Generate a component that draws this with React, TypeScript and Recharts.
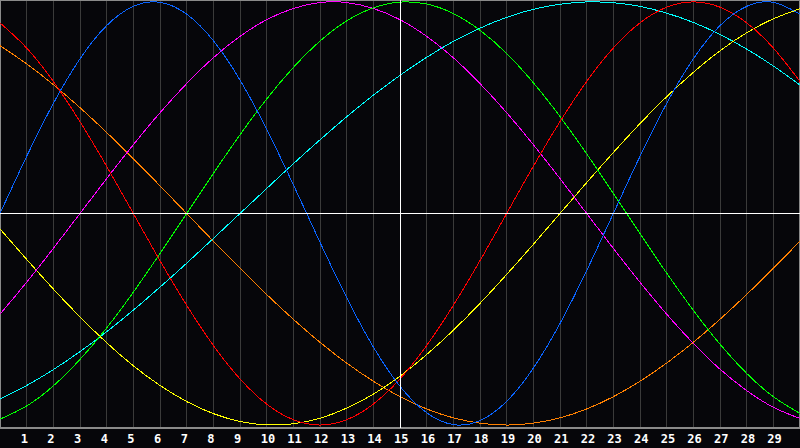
import React from "react";
import {
  LineChart,
  Line,
  XAxis,
  YAxis,
  CartesianGrid,
  ReferenceLine,
  ReferenceArea,
} from "recharts";

// days shown on the chart
const days = [
  0, 1, 2, 3, 4, 5, 6, 7, 8, 9, 10, 11, 12, 13, 14, 15, 16, 17, 18, 19, 20, 21,
  22, 23, 24, 25, 26, 27, 28, 29, 30,
];
const tickDays = [
  1, 2, 3, 4, 5, 6, 7, 8, 9, 10, 11, 12, 13, 14, 15, 16, 17, 18, 19, 20, 21, 22,
  23, 24, 25, 26, 27, 28, 29,
];

// curve values in percent, read at each day
const blueVals = [
  0, 27.0, 52.0, 73.1, 88.8, 97.9, 99.8, 94.2, 81.7, 63.1, 39.8, 13.6, -13.6,
  -39.8, -63.1, -81.7, -94.2, -99.8, -97.9, -88.8, -73.1, -52.0, -27.0, 0, 27.0,
  52.0, 73.1, 88.8, 97.9, 99.8, 94.2,
];
const redVals = [
  90.1, 78.2, 62.4, 43.4, 22.3, 0, -22.3, -43.4, -62.4, -78.2, -90.1, -97.5,
  -100, -97.5, -90.1, -78.2, -62.4, -43.4, -22.3, 0, 22.3, 43.4, 62.4, 78.2,
  90.1, 97.5, 100, 97.5, 90.1, 78.2, 62.4,
];
const greenVals = [
  -97.2, -91.0, -81.5, -69.0, -54.1, -37.2, -18.9, 0, 18.9, 37.2, 54.1, 69.0,
  81.5, 91.0, 97.2, 99.9, 99.0, 94.5, 86.6, 75.6, 61.8, 45.8, 28.2, 9.5, -9.5,
  -28.2, -45.8, -61.8, -75.6, -86.6, -94.5,
];
const magentaVals = [
  -47.6, -32.5, -16.5, 0, 16.5, 32.5, 47.6, 61.4, 73.6, 83.7, 91.6, 96.9, 99.7,
  99.7, 96.9, 91.6, 83.7, 73.6, 61.4, 47.6, 32.5, 16.5, 0, -16.5, -32.5, -47.6,
  -61.4, -73.6, -83.7, -91.6, -96.9,
];
const yellowVals = [
  -7.3, -21.7, -35.7, -48.9, -61.1, -72.0, -81.3, -88.9, -94.6, -98.3, -99.9,
  -99.4, -96.8, -92.0, -85.4, -76.9, -66.7, -55.2, -42.5, -28.8, -14.6, 0, 14.6,
  28.8, 42.5, 55.2, 66.7, 76.9, 85.4, 92.0, 96.8,
];
const orangeVals = [
  79.3, 70.7, 60.9, 50.0, 38.3, 25.9, 13.1, 0, -13.1, -25.9, -38.3, -50.0,
  -60.9, -70.7, -79.3, -86.6, -92.4, -96.6, -99.1, -100, -99.1, -96.6, -92.4,
  -86.6, -79.3, -70.7, -60.9, -50.0, -38.3, -25.9, -13.1,
];
const cyanVals = [
  -87.6, -81.3, -73.8, -65.3, -55.9, -45.7, -34.8, -23.5, -11.8, 0, 11.8, 23.5,
  34.8, 45.7, 55.9, 65.3, 73.8, 81.3, 87.6, 92.7, 96.5, 98.9, 100, 99.6, 97.9,
  94.7, 90.3, 84.6, 77.7, 69.7, 60.7,
];

const data = days.map((day, i) => ({
  day,
  blue: blueVals[i],
  red: redVals[i],
  green: greenVals[i],
  magenta: magentaVals[i],
  yellow: yellowVals[i],
  orange: orangeVals[i],
  cyan: cyanVals[i],
}));

const series = [
  { key: "cyan", color: "#00ffff" },
  { key: "orange", color: "#ff8000" },
  { key: "yellow", color: "#ffff00" },
  { key: "magenta", color: "#ff00ff" },
  { key: "green", color: "#00ff00" },
  { key: "red", color: "#ff0000" },
  { key: "blue", color: "#0a64ff" },
];

const DayTick = (props: any) => {
  const { x, y, payload } = props;
  return (
    <text
      x={x - 6}
      y={y}
      dy="0.71em"
      fill="#ffffff"
      fontSize={12}
      fontWeight="bold"
      fontFamily="DejaVu Sans Mono"
    >
      {payload.value}
    </text>
  );
};

export default function App() {
  return (
    <div
      style={{
        position: "absolute",
        left: 0,
        top: 0,
        width: 800,
        height: 448,
        background: "#06060a",
      }}
    >
      <LineChart
        width={800}
        height={448}
        data={data}
        margin={{ top: 0, right: 0, left: 0, bottom: 0 }}
      >
        <CartesianGrid
          horizontal={false}
          stroke="#3a3a3a"
          shapeRendering="crispEdges"
        />
        <XAxis
          dataKey="day"
          type="number"
          domain={[0, 30]}
          ticks={tickDays}
          height={20}
          axisLine={false}
          tickLine={false}
          tickSize={0}
          tickMargin={6}
          tick={<DayTick />}
          interval={0}
        />
        <YAxis type="number" domain={[-101.4, 100.9]} hide allowDataOverflow />
        <ReferenceArea
          x1={0}
          x2={30}
          y1={-101.4}
          y2={100.9}
          fill="none"
          stroke="#8a8a8a"
          strokeWidth={2}
        />
        {series.map((s) => (
          <Line
            key={s.key}
            dataKey={s.key}
            type="natural"
            stroke={s.color}
            strokeWidth={1}
            shapeRendering="crispEdges"
            dot={false}
            activeDot={false}
            isAnimationActive={false}
          />
        ))}
        <ReferenceLine y={0} stroke="#ffffff" shapeRendering="crispEdges" />
        <ReferenceLine x={15} stroke="#ffffff" shapeRendering="crispEdges" />
      </LineChart>
    </div>
  );
}
